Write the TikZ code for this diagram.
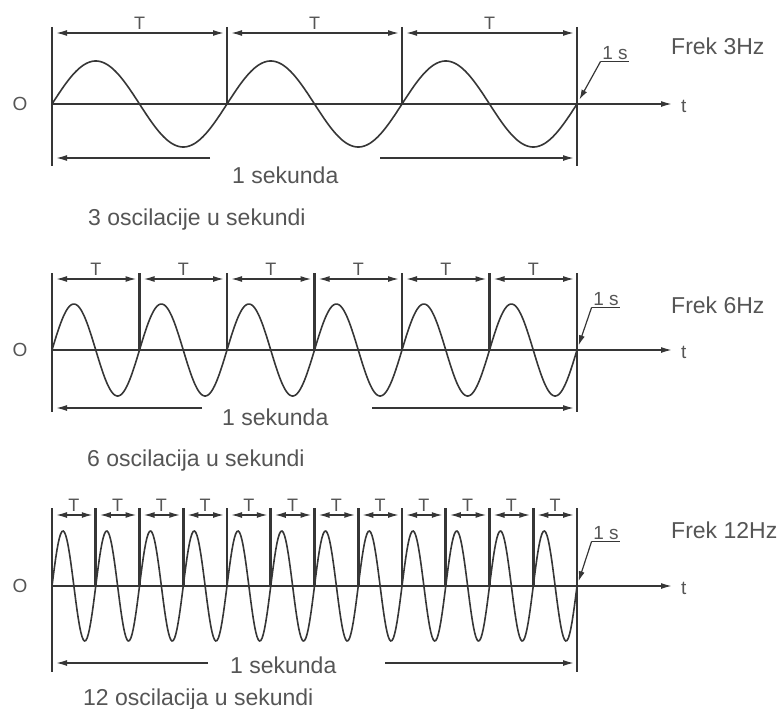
\documentclass[tikz,border=0pt]{standalone}
\usepackage{fontspec}
\setmainfont{Liberation Sans}
\usetikzlibrary{arrows.meta,positioning}
\definecolor{ink}{HTML}{363636}
\definecolor{txt}{HTML}{555555}

\begin{document}
\begin{tikzpicture}[x=1pt,y=-1pt,>={Latex[length=11pt,width=6pt]},
  line/.style={ink,line width=1.5pt},
  bar/.style={ink,line width=2.6pt},
  wave/.style={ink,line width=1.6pt},
  lbl/.style={txt,font=\fontsize{23}{26}\selectfont,inner sep=0pt,text height=16pt,text depth=0pt},
  small/.style={txt,font=\fontsize{19}{22}\selectfont,inner sep=0pt}]
  \useasboundingbox (0,0) rectangle (784,709);

  % One panel per frequency
  \foreach \n/\ya/\ytop/\ybot/\amp/\ys/\xl/\xr/\xs/\yst/\xo/\yo/\word/\yf/\xone/\yone in {
      3/104/27/166/43/158/210/380/232/175/88/217/oscilacije/47/615/53,
      6/350/273/412/46/408/202/372/222/417/87/458/oscilacija/305/606/299,
      12/586/508/672/55/663/208/385/230/665/83/697/oscilacija/530/606/533} {

    % Time axis
    \coordinate (s\n) at (52,\ya);
    \coordinate (a\n) at (672,\ya);
    \draw[line,->] (s\n) -- (a\n);
    \node[small,anchor=west] (t\n) at (681,\ya+2) {t};
    \node[small] (o\n) at (20,\ya) {O};

    % Period marks
    \pgfmathsetmacro\w{525/\n}
    \pgfmathsetmacro\f{360*\n/525}
    \foreach \k in {0,...,\n} {
      \coordinate (top\n-\k) at ({52+\k*\w},\ytop);
      \coordinate (mid\n-\k) at ({52+\k*\w},\ya);
      \coordinate (arr\n-\k) at ({52+\k*\w},\ya-71);
      \draw[bar] (top\n-\k) -- (mid\n-\k);
    }
    \coordinate (bl\n) at (52,\ybot);
    \coordinate (br\n) at (577,\ybot);
    \draw[bar] (mid\n-0) -- (bl\n);
    \draw[bar] (mid\n-\n) -- (br\n);
    \foreach \k [evaluate=\k as \j using int(\k-1)] in {1,...,\n} {
      \draw[line,<->,shorten <=4pt,shorten >=3pt] (arr\n-\j) -- (arr\n-\k)
        node[midway,above=3pt,small,font=\fontsize{18}{20}\selectfont] (T\n-\k) {T};
    }

    % Signal
    \draw[wave] plot[domain=0:525,samples=421] ({52+\x},{\ya-\amp*sin(\f*\x)});

    % One second
    \coordinate (sl\n) at (\xl,\ys);
    \coordinate (sr\n) at (\xr,\ys);
    \coordinate (sa\n) at (52,\ys);
    \coordinate (sb\n) at (577,\ys);
    \draw[line,->,shorten >=4pt] (sl\n) -- (sa\n);
    \draw[line,->,shorten >=3pt] (sr\n) -- (sb\n);
    \node[lbl,anchor=west] (sec\n) at (\xs,\yst) {1 sekunda};
    \node[lbl,anchor=west] (osc\n) at (\xo,\yo) {\n\ \word\ u sekundi};
    \node[lbl,anchor=west] (frek\n) at (671,\yf) {Frek \n Hz};

    % 1 s marker
    \node[small,inner sep=1.5pt] (one\n) at (\xone,\yone) {1 s};
    \draw[ink,line width=1.2pt] (one\n.south west) -- (one\n.south east);
    \draw[ink,line width=1.2pt,-{Latex[length=10pt,width=6pt]},shorten >=5pt] (one\n.south west) -- (mid\n-\n);
  }
\end{tikzpicture}
\end{document}
